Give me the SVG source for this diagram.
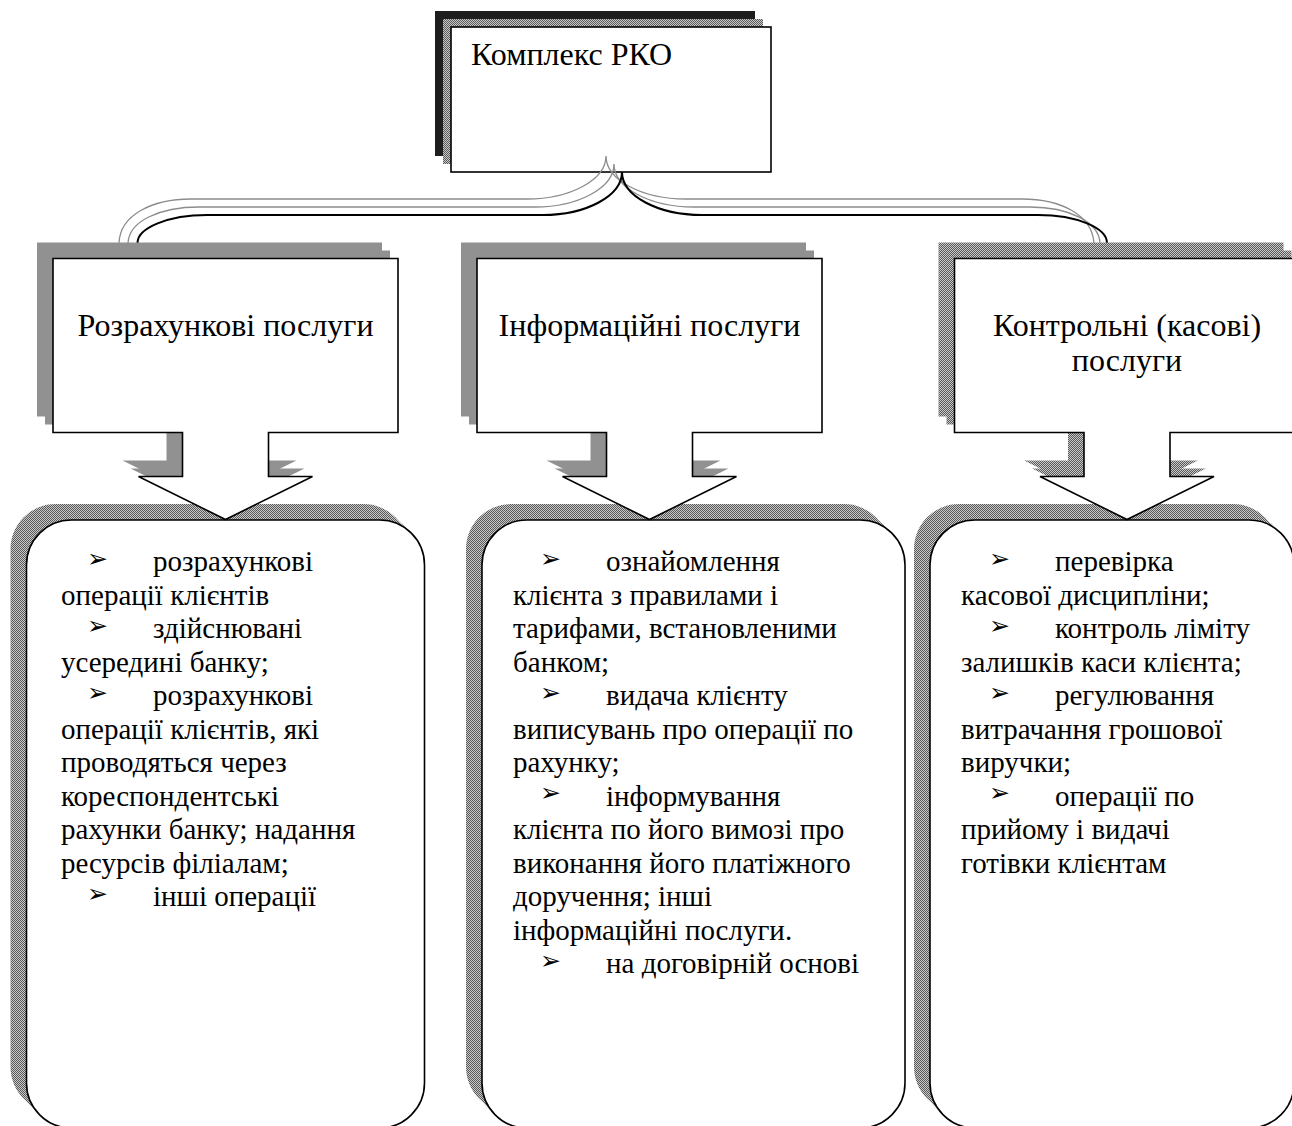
<svg xmlns="http://www.w3.org/2000/svg" xmlns:xlink="http://www.w3.org/1999/xlink" width="1292" height="1126" viewBox="0 0 1292 1126">
  <style>
    .main { fill: #ffffff; stroke: #000000; stroke-width: 1.6; stroke-linejoin: miter; }
    .shade { fill: url(#stipple); stroke: none; }
    .shade-dark { fill: #1e1e1e; stroke: none; }
    .link { fill: none; stroke: #000000; stroke-width: 2; }
    .link-shade { fill: none; stroke: #8c8c8c; stroke-width: 1.3; }
    .title { font-family: "Liberation Serif", "Times New Roman", serif; font-size: 32px; fill: #000; }
    .head { font-family: "Liberation Serif", "Times New Roman", serif; font-size: 32px; fill: #000; text-anchor: middle; }
    .body { font-family: "Liberation Serif", "Times New Roman", serif; font-size: 29px; fill: #000; }
    .bul { font-family: "DejaVu Sans", sans-serif; font-size: 25px; fill: #000; }
  </style>
  <defs>
    <!-- halftone grey used for the drop shadows -->
    <pattern id="stipple" width="2" height="2" patternUnits="userSpaceOnUse">
      <rect width="2" height="2" fill="#c8c8c8"/>
      <rect width="1" height="1" fill="#5a5a5a"/>
      <rect x="1" y="1" width="1" height="1" fill="#5a5a5a"/>
    </pattern>
    <!-- down-arrow callout, centred on x = 0 -->
    <path id="callout" d="M-172.5,258.5 H172.5 V432.5 H43 V476.5 H87 L0,519.5 L-87,476.5 H-43 V432.5 H-172.5 Z"/>
  </defs>

  <!-- detail panels -->
  <g id="panel-settlement">
    <rect class="shade" x="10.5" y="504" width="398" height="608" rx="45"/>
    <rect class="shade" x="18.5" y="512" width="398" height="608" rx="45"/>
    <rect class="main" x="26.5" y="520" width="398" height="608" rx="45"/>
    <g class="bul">
      <text x="87" y="566.5">➢</text>
      <text x="87" y="633.5">➢</text>
      <text x="87" y="700.5">➢</text>
      <text x="87" y="901.5">➢</text>
    </g>
    <g class="body" xml:space="preserve">
      <text x="153" y="571">розрахункові</text>
      <text x="61" y="604.5">операції клієнтів</text>
      <text x="153" y="638">здійснювані</text>
      <text x="61" y="671.5">усередині банку;</text>
      <text x="153" y="705">розрахункові</text>
      <text x="61" y="738.5">операції клієнтів, які</text>
      <text x="61" y="772">проводяться  через</text>
      <text x="61" y="805.5">кореспондентські</text>
      <text x="61" y="839">рахунки банку; надання</text>
      <text x="61" y="872.5">ресурсів філіалам;</text>
      <text x="153" y="906">інші операції</text>
    </g>
  </g>

  <g id="panel-information">
    <rect class="shade" x="466" y="504" width="423" height="608" rx="45"/>
    <rect class="shade" x="474" y="512" width="423" height="608" rx="45"/>
    <rect class="main" x="482" y="520" width="423" height="608" rx="45"/>
    <g class="bul">
      <text x="540" y="566.5">➢</text>
      <text x="540" y="700.5">➢</text>
      <text x="540" y="801">➢</text>
      <text x="540" y="968.5">➢</text>
    </g>
    <g class="body">
      <text x="606" y="571">ознайомлення</text>
      <text x="513" y="604.5">клієнта з правилами і</text>
      <text x="513" y="638">тарифами, встановленими</text>
      <text x="513" y="671.5">банком;</text>
      <text x="606" y="705">видача клієнту</text>
      <text x="513" y="738.5">виписувань про операції по</text>
      <text x="513" y="772">рахунку;</text>
      <text x="606" y="805.5">інформування</text>
      <text x="513" y="839">клієнта по його вимозі про</text>
      <text x="513" y="872.5">виконання його платіжного</text>
      <text x="513" y="906">доручення; інші</text>
      <text x="513" y="939.5">інформаційні послуги.</text>
      <text x="606" y="973">на договірній основі</text>
    </g>
  </g>

  <g id="panel-control">
    <rect class="shade" x="914" y="504" width="364" height="608" rx="45"/>
    <rect class="shade" x="922" y="512" width="364" height="608" rx="45"/>
    <rect class="main" x="930" y="520" width="364" height="608" rx="45"/>
    <g class="bul">
      <text x="989" y="566.5">➢</text>
      <text x="989" y="633.5">➢</text>
      <text x="989" y="700.5">➢</text>
      <text x="989" y="801">➢</text>
    </g>
    <g class="body">
      <text x="1055" y="571">перевірка</text>
      <text x="961" y="604.5">касової дисципліни;</text>
      <text x="1055" y="638">контроль ліміту</text>
      <text x="961" y="671.5">залишків каси клієнта;</text>
      <text x="1055" y="705">регулювання</text>
      <text x="961" y="738.5">витрачання грошової</text>
      <text x="961" y="772">виручки;</text>
      <text x="1055" y="805.5">операції по</text>
      <text x="961" y="839">прийому і видачі</text>
      <text x="961" y="872.5">готівки клієнтам</text>
    </g>
  </g>

  <!-- root box -->
  <g id="node-rko">
    <rect class="shade-dark" x="435" y="11" width="320" height="145"/>
    <rect class="shade" x="443" y="19" width="320" height="145"/>
    <rect class="main" x="451" y="27" width="320" height="145"/>
    <text class="title" x="471" y="65">Комплекс РКО</text>
  </g>

  <!-- brace connector with its shadow copies -->
  <g id="connectors">
    <path class="link-shade" d="M119,243 C120,215 152,199 191,199 L527,199 C570,199 606,180 606,156 C606,180 642,199 686,199 L1022,199 C1061,199 1092,215 1094,243"/>
    <path class="link-shade" d="M128,243 C129,221 160,207 199,207 L535,207 C578,207 614,188 614,164 C614,188 650,207 694,207 L1030,207 C1069,207 1099,222 1100,243"/>
    <path class="link" d="M137.5,243 C137.5,228 168,215 207,215 L543,215 C586,215 622,196 622,172 C622,196 658,215 702,215 L1038,215 C1077,215 1107,228 1107,243"/>
  </g>

  <!-- service callouts -->
  <g id="node-settlement">
    <use xlink:href="#callout" class="shade" x="209.5" y="-16"/>
    <use xlink:href="#callout" class="shade" x="217.5" y="-8"/>
    <use xlink:href="#callout" class="main" x="225.5"/>
    <text class="head" x="225.5" y="336">Розрахункові послуги</text>
  </g>

  <g id="node-information">
    <use xlink:href="#callout" class="shade" x="633.5" y="-16"/>
    <use xlink:href="#callout" class="shade" x="641.5" y="-8"/>
    <use xlink:href="#callout" class="main" x="649.5"/>
    <text class="head" x="649.5" y="336">Інформаційні послуги</text>
  </g>

  <g id="node-control">
    <use xlink:href="#callout" class="shade" x="1111" y="-16"/>
    <use xlink:href="#callout" class="shade" x="1119" y="-8"/>
    <use xlink:href="#callout" class="main" x="1127"/>
    <text class="head" x="1127" y="336">Контрольні (касові)</text>
    <text class="head" x="1127" y="371">послуги</text>
  </g>
</svg>
